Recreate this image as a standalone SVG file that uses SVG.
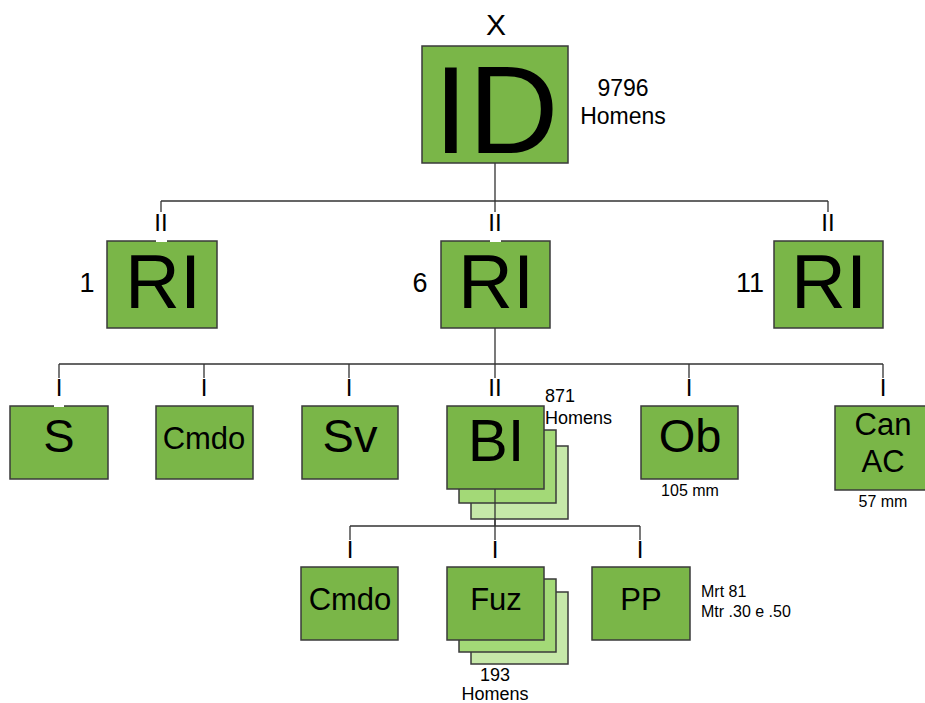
<svg xmlns="http://www.w3.org/2000/svg" width="925" height="703" viewBox="0 0 925 703">
  <style>
    .box { fill: #7ab648; stroke: #3a3a3a; stroke-width: 1.5; }
    .stack2 { fill: #a3d977; stroke: #3a3a3a; stroke-width: 1.5; }
    .stack3 { fill: #c6e8a9; stroke: #3a3a3a; stroke-width: 1.5; }
    .wire { fill: none; stroke: #333; stroke-width: 1.3; }
    .gap { stroke: #ffffff; stroke-width: 2; }
    text { font-family: "Liberation Sans", Arial, sans-serif; fill: #000; }
    .c { text-anchor: middle; }
    .tick { font-size: 24px; text-anchor: middle; }
  </style>

  <!-- connectors -->
  <g id="connectors">
    <path class="wire" d="M495,163 V201 M161,201 H828 M161,201 V212 M495,201 V212 M828,201 V212"/>
    <path class="wire" d="M495,328 V364 M59,364 H883 M59,364 V378 M204,364 V378 M349,364 V378 M495,364 V378 M689,364 V378 M883,364 V378"/>
    <path class="wire" d="M495,489 V526 M350,526 H640 M350,526 V540 M495,526 V540 M640,526 V540"/>
    <!-- echelon marks -->
    <text class="tick" x="161" y="231">II</text>
    <text class="tick" x="495" y="231">II</text>
    <text class="tick" x="828" y="231">II</text>
    <text class="tick" x="59" y="396">I</text>
    <text class="tick" x="204" y="396">I</text>
    <text class="tick" x="349" y="396">I</text>
    <text class="tick" x="495" y="396">II</text>
    <text class="tick" x="689" y="396">I</text>
    <text class="tick" x="883" y="396">I</text>
    <text class="tick" x="350" y="558">I</text>
    <text class="tick" x="495" y="558">I</text>
    <text class="tick" x="640" y="558">I</text>
  </g>

  <!-- division -->
  <g id="id-node">
    <text class="c" x="496" y="35" font-size="30">X</text>
    <rect class="box" x="422" y="46" width="146" height="117"/>
    <text class="c" x="496" y="153" font-size="125">ID</text>
    <text class="c" x="623" y="96" font-size="23">9796</text>
    <text class="c" x="623" y="124" font-size="23">Homens</text>
  </g>

  <!-- regiments -->
  <g id="ri-1">
    <rect class="box" x="107" y="241" width="110" height="87"/>
    <line class="gap" x1="156" y1="241" x2="167" y2="241"/>
    <text class="c" x="163" y="308" font-size="76">RI</text>
    <text class="c" x="87" y="292" font-size="27">1</text>
  </g>
  <g id="ri-6">
    <rect class="box" x="441" y="241" width="109" height="87"/>
    <line class="gap" x1="490" y1="241" x2="501" y2="241"/>
    <text class="c" x="496" y="308" font-size="76">RI</text>
    <text class="c" x="420" y="292" font-size="27">6</text>
  </g>
  <g id="ri-11">
    <rect class="box" x="774" y="241" width="109" height="87"/>
    <text class="c" x="829" y="308" font-size="76">RI</text>
    <text class="c" x="750" y="292" font-size="27">11</text>
  </g>

  <!-- regiment elements -->
  <g id="s">
    <rect class="box" x="10" y="406" width="98" height="73"/>
    <line class="gap" x1="54" y1="406" x2="64" y2="406"/>
    <text class="c" x="59" y="452" font-size="47">S</text>
  </g>
  <g id="cmdo-ri">
    <rect class="box" x="156" y="406" width="97" height="73"/>
    <text class="c" x="204" y="449" font-size="31">Cmdo</text>
  </g>
  <g id="sv">
    <rect class="box" x="302" y="406" width="96" height="73"/>
    <text class="c" x="350" y="452" font-size="47">Sv</text>
  </g>
  <g id="bi">
    <rect class="stack3" x="471" y="446" width="97" height="73"/>
    <rect class="stack2" x="459" y="430" width="97" height="73"/>
    <rect class="box" x="447" y="406" width="97" height="83"/>
    <line class="wire" x1="495" y1="489" x2="495" y2="526"/>
    <text class="c" x="496" y="461" font-size="60">BI</text>
    <text x="545" y="402" font-size="18">871</text>
    <text x="545" y="424" font-size="18">Homens</text>
  </g>
  <g id="ob">
    <rect class="box" x="641" y="406" width="97" height="73"/>
    <text class="c" x="690" y="452" font-size="47">Ob</text>
    <text class="c" x="690" y="496" font-size="16">105 mm</text>
  </g>
  <g id="can-ac">
    <rect class="box" x="835" y="406" width="96" height="84"/>
    <text class="c" x="883" y="435" font-size="31">Can</text>
    <text class="c" x="883" y="472" font-size="31">AC</text>
    <text class="c" x="883" y="507" font-size="16">57 mm</text>
  </g>

  <!-- battalion elements -->
  <g id="cmdo-bi">
    <rect class="box" x="301" y="567" width="97" height="73"/>
    <text class="c" x="350" y="610" font-size="31">Cmdo</text>
  </g>
  <g id="fuz">
    <rect class="stack3" x="471" y="592" width="97" height="72"/>
    <rect class="stack2" x="459" y="579" width="97" height="73"/>
    <rect class="box" x="447" y="567" width="97" height="73"/>
    <text class="c" x="496" y="610" font-size="31">Fuz</text>
    <text class="c" x="495" y="681" font-size="18">193</text>
    <text class="c" x="495" y="700" font-size="18">Homens</text>
  </g>
  <g id="pp">
    <rect class="box" x="592" y="567" width="98" height="73"/>
    <text class="c" x="641" y="610" font-size="31">PP</text>
    <text x="701" y="597" font-size="16">Mrt 81</text>
    <text x="701" y="617" font-size="16">Mtr .30 e .50</text>
  </g>
</svg>
